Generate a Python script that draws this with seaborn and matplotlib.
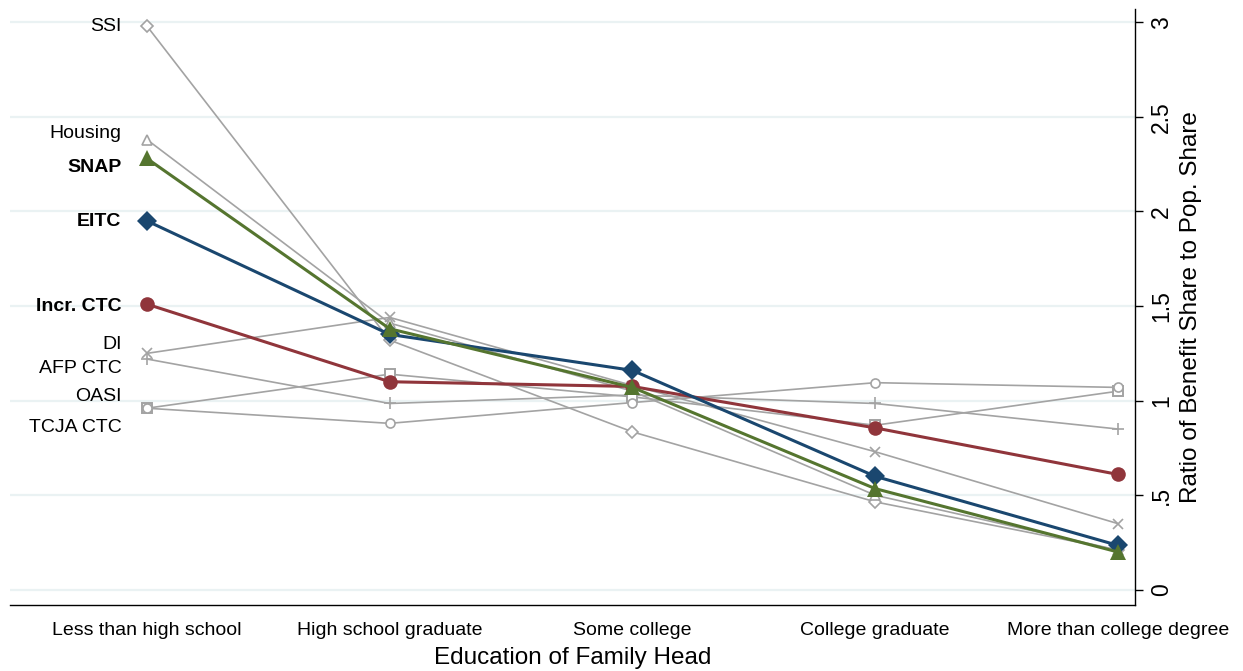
import matplotlib
matplotlib.use("Agg")
import matplotlib.pyplot as plt
import seaborn as sns
import pandas as pd

# ---- data ----
categories = ["Less than high school", "High school graduate", "Some college",
              "College graduate", "More than college degree"]

ssi      = [2.98, 1.32, 0.835, 0.465, 0.21]
housing  = [2.38, 1.41, 1.05, 0.50, 0.21]
di       = [1.25, 1.44, 1.08, 0.73, 0.35]
afp_ctc  = [1.22, 0.985, 1.03, 0.985, 0.85]
oasi     = [0.96, 1.14, 1.02, 0.87, 1.05]
tcja_ctc = [0.96, 0.88, 0.99, 1.095, 1.07]
snap     = [2.28, 1.38, 1.07, 0.535, 0.20]
eitc     = [1.95, 1.35, 1.16, 0.60, 0.235]
incr_ctc = [1.51, 1.10, 1.075, 0.856, 0.61]

series_names = ["SSI", "Housing", "DI", "AFP CTC", "OASI", "TCJA CTC",
                "SNAP", "EITC", "Incr. CTC"]
series_vals = [ssi, housing, di, afp_ctc, oasi, tcja_ctc, snap, eitc, incr_ctc]
highlighted = ["SNAP", "EITC", "Incr. CTC"]

y_ticks = [0, 0.5, 1, 1.5, 2, 2.5, 3]
y_tick_labels = ["0", ".5", "1", "1.5", "2", "2.5", "3"]

# label placement (layout only)
label_y = {"SSI": 2.975, "Housing": 2.41, "SNAP": 2.23, "EITC": 1.945,
           "Incr. CTC": 1.50, "DI": 1.295, "AFP CTC": 1.17, "OASI": 1.02,
           "TCJA CTC": 0.856}

# ---- styles ----
gray = "#a3a3a3"
styles = {
    "SSI":      dict(color=gray, marker="D", mfc="white", ms=6, lw=1.2, mew=1.2),
    "Housing":  dict(color=gray, marker="^", mfc="white", ms=7, lw=1.2, mew=1.2),
    "DI":       dict(color=gray, marker="x", mfc="none", ms=7, lw=1.2, mew=1.2),
    "AFP CTC":  dict(color=gray, marker="+", mfc="none", ms=8.5, lw=1.2, mew=1.2),
    "OASI":     dict(color=gray, marker="s", mfc="white", ms=6.5, lw=1.2, mew=1.4),
    "TCJA CTC": dict(color=gray, marker="o", mfc="white", ms=6.5, lw=1.2, mew=1.2),
    "SNAP":     dict(color="#55752f", marker="^", mfc="#55752f", ms=12, lw=2.2, mew=0),
    "EITC":     dict(color="#1a476f", marker="D", mfc="#1a476f", ms=10, lw=2.2, mew=0),
    "Incr. CTC": dict(color="#90353b", marker="o", mfc="#90353b", ms=10.5, lw=2.2, mew=0),
}

sns.set_style("white")
plt.rcParams["font.family"] = ["Liberation Sans", "DejaVu Sans"]
plt.rcParams["text.color"] = "black"
plt.rcParams["axes.labelcolor"] = "black"
plt.rcParams["xtick.color"] = "black"
plt.rcParams["ytick.color"] = "black"

fig = plt.figure(figsize=(12.43, 6.71), dpi=100)
ax = fig.add_axes([10 / 1243, 66 / 671, 1125 / 1243, 596 / 671])

x_pos = list(range(len(categories)))

for yv in y_ticks:
    ax.axhline(yv, color="#eaf2f3", lw=1.6, zorder=0)

order = [n for n in series_names if n not in highlighted] + ["Incr. CTC", "EITC", "SNAP"]
for name in order:
    vals = series_vals[series_names.index(name)]
    st = styles[name]
    df = pd.DataFrame({"x": x_pos, "y": vals})
    sns.lineplot(data=df, x="x", y="y", ax=ax, color=st["color"], lw=st["lw"],
                 marker=st["marker"], markersize=st["ms"], markerfacecolor=st["mfc"],
                 markeredgecolor=st["color"], markeredgewidth=st["mew"],
                 zorder=3 if name in highlighted else 2, legend=False)
    ax.text(-0.105, label_y[name], name, ha="right", va="center", fontsize=14,
            fontweight="bold" if name in highlighted else "normal", color="black")

ax.set_xlim(-0.564, 4.07)
ax.set_ylim(-0.08, 3.07)

ax.set_xticks(x_pos)
ax.set_xticklabels(categories, fontsize=14)
ax.set_xlabel("Education of Family Head", fontsize=17.5, labelpad=6)

ax.yaxis.tick_right()
ax.yaxis.set_label_position("right")
ax.set_yticks(y_ticks)
ax.set_yticklabels(y_tick_labels, fontsize=16.5, rotation=90, va="center")
ax.set_ylabel("Ratio of Benefit Share to Pop. Share", fontsize=17.5, labelpad=5)

ax.tick_params(axis="x", direction="out", length=6, width=1, color="black", pad=6)
ax.tick_params(axis="y", direction="out", length=6, width=1, color="black", pad=5)

for s in ["top", "left"]:
    ax.spines[s].set_visible(False)
for s in ["right", "bottom"]:
    ax.spines[s].set_visible(True)
    ax.spines[s].set_color("black")
    ax.spines[s].set_linewidth(1.0)

fig.savefig("out.png", dpi=100)
